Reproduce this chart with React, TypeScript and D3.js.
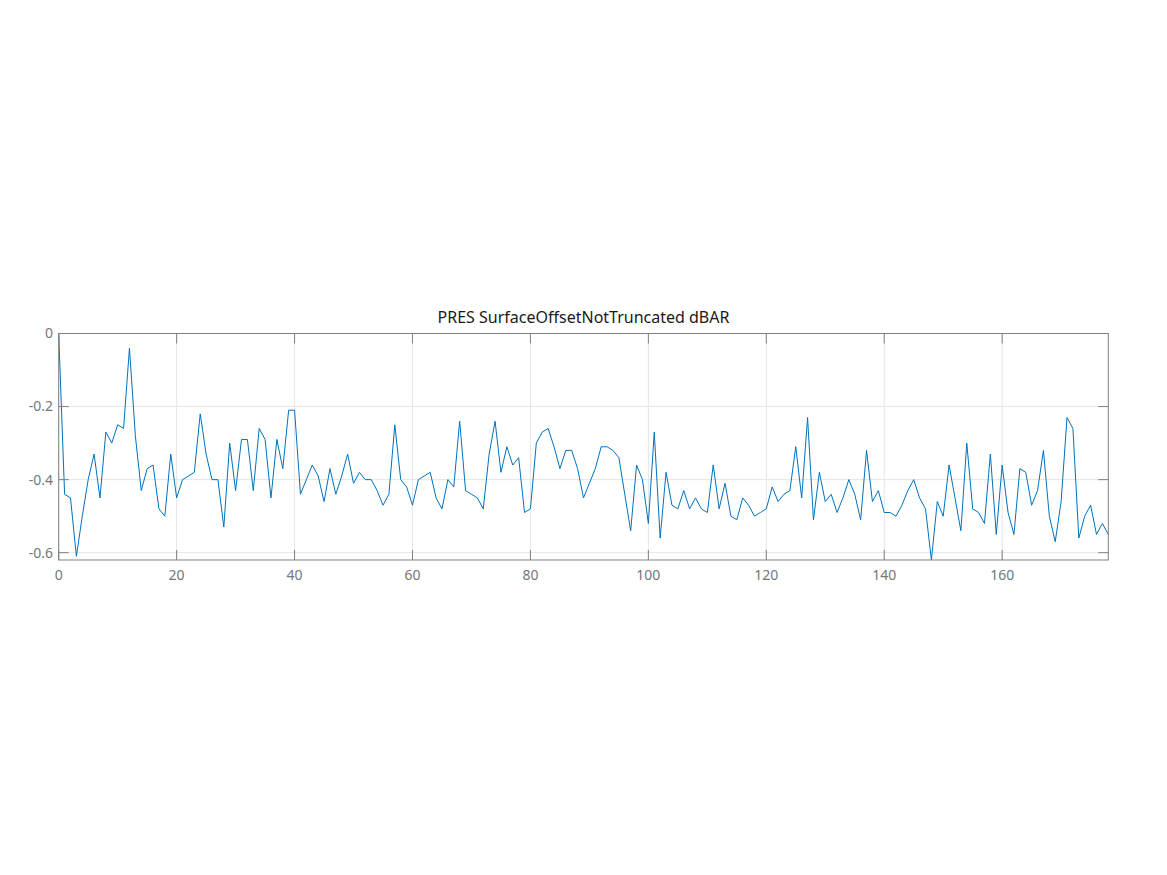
import React from "react";
import * as d3 from "d3";

const TITLE = "PRES SurfaceOffsetNotTruncated dBAR";
const values: number[] = [
  0, -0.44, -0.45, -0.61, -0.5, -0.4, -0.33, -0.45, -0.27, -0.3,
  -0.25, -0.26, -0.04, -0.28, -0.43, -0.37, -0.36, -0.48, -0.5, -0.33,
  -0.45, -0.4, -0.39, -0.38, -0.22, -0.33, -0.4, -0.4, -0.53, -0.3,
  -0.43, -0.29, -0.29, -0.43, -0.26, -0.29, -0.45, -0.29, -0.37, -0.21,
  -0.21, -0.44, -0.4, -0.36, -0.39, -0.46, -0.37, -0.44, -0.39, -0.33,
  -0.41, -0.38, -0.4, -0.4, -0.43, -0.47, -0.44, -0.25, -0.4, -0.42,
  -0.47, -0.4, -0.39, -0.38, -0.45, -0.48, -0.4, -0.42, -0.24, -0.43,
  -0.44, -0.45, -0.48, -0.33, -0.24, -0.38, -0.31, -0.36, -0.34, -0.49,
  -0.48, -0.3, -0.27, -0.26, -0.31, -0.37, -0.32, -0.32, -0.37, -0.45,
  -0.41, -0.37, -0.31, -0.31, -0.32, -0.34, -0.44, -0.54, -0.36, -0.4,
  -0.52, -0.27, -0.56, -0.38, -0.47, -0.48, -0.43, -0.48, -0.45, -0.48,
  -0.49, -0.36, -0.48, -0.41, -0.5, -0.51, -0.45, -0.47, -0.5, -0.49,
  -0.48, -0.42, -0.46, -0.44, -0.43, -0.31, -0.45, -0.23, -0.51, -0.38,
  -0.46, -0.44, -0.49, -0.45, -0.4, -0.44, -0.51, -0.32, -0.46, -0.43,
  -0.49, -0.49, -0.5, -0.47, -0.43, -0.4, -0.45, -0.48, -0.62, -0.46,
  -0.5, -0.36, -0.45, -0.54, -0.3, -0.48, -0.49, -0.52, -0.33, -0.55,
  -0.36, -0.49, -0.55, -0.37, -0.38, -0.47, -0.43, -0.32, -0.5, -0.57,
  -0.46, -0.23, -0.26, -0.56, -0.5, -0.47, -0.55, -0.52, -0.55,
];
const xTicks = [0, 20, 40, 60, 80, 100, 120, 140, 160];
const yTicks = [0, -0.2, -0.4, -0.6];
const yTickLabels = ["0", "-0.2", "-0.4", "-0.6"];

const W = 1167, H = 875;
const L = 58.7, R = 1108.3, T = 333.5, B = 560;
const FONT = "'Noto Sans', 'Open Sans', sans-serif";
const AXIS = "#808080";
const TL = 10;

export default function App() {
  const x = d3.scaleLinear().domain([0, values.length - 1]).range([L, R]);
  const y = d3.scaleLinear().domain([-0.62, 0]).range([B, T]);
  const line = d3.line<number>().x((_, i) => x(i)).y((d) => y(d));

  return (
    <svg width={W} height={H} style={{ position: "absolute", left: 0, top: 0, background: "#fff" }}>
      <rect x={0} y={0} width={W} height={H} fill="#fff" />
      {xTicks.map((t) => (
        <line key={"gx" + t} x1={x(t)} x2={x(t)} y1={T} y2={B} stroke="#e5e5e5" strokeWidth={1} />
      ))}
      {yTicks.map((t) => (
        <line key={"gy" + t} x1={L} x2={R} y1={y(t)} y2={y(t)} stroke="#e5e5e5" strokeWidth={1} />
      ))}
      <path d={line(values) || ""} fill="none" stroke="#0072BD" strokeWidth={1} strokeLinejoin="miter" />
      <rect x={L} y={T} width={R - L} height={B - T} fill="none" stroke={AXIS} strokeWidth={1} />
      {xTicks.map((t) => (
        <g key={"tx" + t}>
          <line x1={x(t)} x2={x(t)} y1={B} y2={B - TL} stroke={AXIS} />
          <line x1={x(t)} x2={x(t)} y1={T} y2={T + TL} stroke={AXIS} />
          <text x={x(t)} y={580} textAnchor="middle" fontFamily={FONT} fontSize={14} fill="#767676">
            {t}
          </text>
        </g>
      ))}
      {yTicks.map((t, i) => (
        <g key={"ty" + t}>
          <line x1={L} x2={L + TL} y1={y(t)} y2={y(t)} stroke={AXIS} />
          <line x1={R} x2={R - TL} y1={y(t)} y2={y(t)} stroke={AXIS} />
          <text x={53} y={y(t)} dy="0.35em" textAnchor="end" fontFamily={FONT} fontSize={14} fill="#767676">
            {yTickLabels[i]}
          </text>
        </g>
      ))}
      <text x={(L + R) / 2} y={323} textAnchor="middle" fontFamily={FONT} fontSize={16} fill="#1a1a1a">
        {TITLE}
      </text>
    </svg>
  );
}
